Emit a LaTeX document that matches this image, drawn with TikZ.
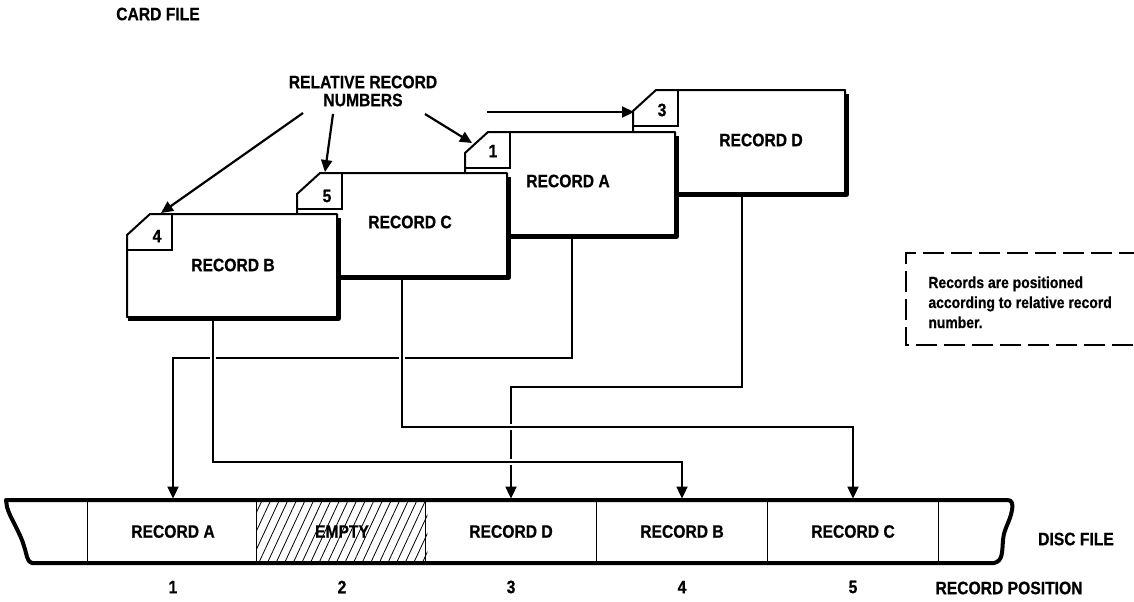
\documentclass[tikz,border=0pt]{standalone}
\usepackage{fontspec}
\setmainfont{Liberation Sans}[FakeStretch=0.87, BoldFeatures={FakeBold=0.6}]
\usetikzlibrary{arrows.meta,patterns.meta,calc}
\newcommand\drawcard[4]{% x y w h
  \path[fill=white,draw=black,line width=1pt,line join=round] (#1,#2+21) -- (#1+23,#2) -- (#1+#3,#2) -- (#1+#3,#2+#4) -- (#1,#2+#4) -- cycle;
  \draw[line width=2.6pt,line join=round] (#1+#3+1.5,#2+4) -- (#1+#3+1.5,#2+#4+1.5) -- (#1+0.5,#2+#4+1.5);
  \draw[line width=1pt] (#1,#2+36) -- (#1+45,#2+36) -- (#1+45,#2);
}
\tikzset{
  lbl/.style={font=\fontsize{9}{9}\selectfont\bfseries, inner sep=0pt},
  cell/.style={lbl, minimum width=85pt, minimum height=31.5pt},
  conn/.style={line width=0.9pt, -{Triangle[length=6pt,width=5.5pt]}, shorten >=0.5pt},
  gapconn/.style={conn, preaction={draw=white, line width=3pt, arrows=-}},
  relarr/.style={line width=1.1pt, -{Triangle[length=6pt,width=5.5pt]}},
  notefont/.style={font=\fontsize{8}{10}\selectfont\bfseries, inner sep=0pt, align=left},
  notebox/.style={line width=1.2pt, dash pattern=on 10.5pt off 3.5pt},
}
\begin{document}
\begin{tikzpicture}[x=0.5pt,y=-0.5pt]
\useasboundingbox (0,0) rectangle (1134,601);

% titles
\node[lbl] (cardfile) at (158,14) {CARD FILE};
\node[lbl, align=center] (rel) at (363,91) {RELATIVE RECORD\\NUMBERS};

% cards, back to front
\drawcard{633}{90}{212}{103}
\node[lbl] (recD) at (761,140) {RECORD D};
\node[lbl] (tab3) at (662,110) {3};
\drawcard{465}{132}{210}{103}
\node[lbl] (recA) at (568,181) {RECORD A};
\node[lbl] (tab1) at (493,151) {1};
\drawcard{297}{173}{210}{103}
\node[lbl] (recC) at (410,222) {RECORD C};
\node[lbl] (tab5) at (327,196) {5};
\drawcard{127}{214}{210}{103}
\node[lbl] (recB) at (233,265) {RECORD B};
\node[lbl] (tab4) at (157,236) {4};

% relative record number arrows
\coordinate (r4) at (303,113);
\coordinate (r5) at (333,114);
\coordinate (r1) at (425,114);
\coordinate (r3) at (487,112);
\coordinate (in4) at (161,213);
\coordinate (in5) at (325,172);
\coordinate (in1) at (472,143);
\coordinate (in3) at (634,112);
\draw[relarr] (r4) -- (in4);
\draw[relarr] (r5) -- (in5);
\draw[relarr] (r1) -- (in1);
\draw[relarr] (r3) -- (in3);

% disc cells
\node[cell] (s1) at (173,531.5) {RECORD A};
\node[cell] (s2) at (342,531.5) {};
\node[cell] (s3) at (511,531.5) {RECORD D};
\node[cell] (s4) at (682,531.5) {RECORD B};
\node[cell] (s5) at (853,531.5) {RECORD C};
\fill[pattern={Lines[angle=65,distance=3.9pt,line width=0.4pt]}] (s2.north west) rectangle (s2.south east);
\node[lbl] (empty) at (s2) {EMPTY};
\foreach \c in {s1,s2,s3,s4,s5}
  \draw[line width=0.7pt] (\c.north west) -- (\c.south west);
\draw[line width=0.7pt] (s5.north east) -- (s5.south east);

% connectors from cards to disc
\coordinate (Aout) at (572,239);
\coordinate (Dout) at (742,197);
\coordinate (Bout) at (213,321);
\coordinate (Cout) at (402,280);
\draw[conn] (Aout) -- (Aout |- 0,358) -| (s1.north);
\draw[conn] (Dout) -- (Dout |- 0,387) -| (s3.north);
\draw[gapconn] (Cout) -- (Cout |- 0,427) -| (s5.north);
\draw[gapconn] (Bout) -- (Bout |- 0,462) -| (s4.north);

% disc outline
\draw[line width=2pt, line join=round]
  (6,500) -- (1007,500) .. controls (1012,500) and (1013,503) .. (1012,510)
  .. controls (1010,522) and (1004,528) .. (1003,540)
  .. controls (1002,552) and (1003,561) .. (994,563)
  -- (32,563) .. controls (27,562) and (27,555) .. (24,546)
  .. controls (20,532) and (10,518) .. (7,507) -- cycle;

% labels at right and below
\node[lbl] (discfile) at (1076,539) {DISC FILE};
\node[lbl] (recpos) at (1009,588) {RECORD POSITION};
\node[lbl] (n1) at (173,587) {1};
\node[lbl] (n2) at (342,587) {2};
\node[lbl] (n3) at (511,587) {3};
\node[lbl] (n4) at (682,587) {4};
\node[lbl] (n5) at (853,587) {5};

% note
\node[notefont, anchor=north west] (note) at (928,276) {Records are positioned\\according to relative record\\number.};
\draw[notebox] (1140,253) -- (906,253) -- (906,345) -- (1140,345);
\end{tikzpicture}
\end{document}
